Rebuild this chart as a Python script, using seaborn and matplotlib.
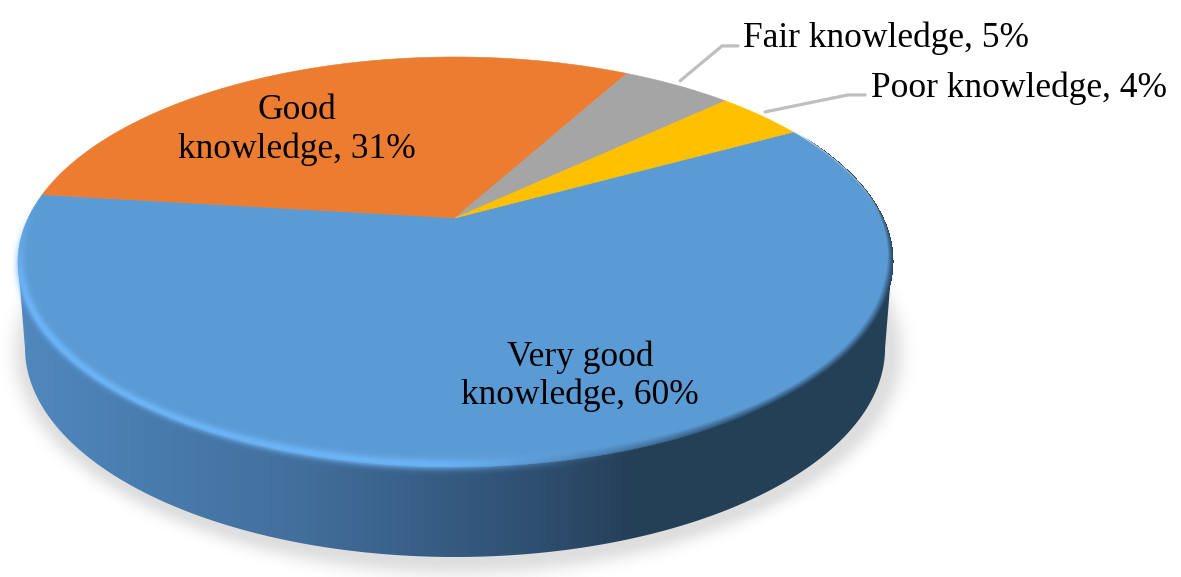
import numpy as np
import seaborn as sns
import matplotlib.pyplot as plt
from matplotlib.colors import LinearSegmentedColormap, to_rgb
from matplotlib.patches import Polygon

sns.set_theme(style='white')
plt.rcParams['font.family'] = ['Liberation Serif', 'DejaVu Serif']

# Chart values
categories = ['Very good knowledge', 'Good knowledge', 'Fair knowledge', 'Poor knowledge']
shares = [60, 31, 5, 4]
label_text = ['Very good\nknowledge, 60%', 'Good\nknowledge, 31%', 'Fair knowledge, 5%', 'Poor knowledge, 4%']
palette = sns.color_palette(['#5B9BD5', '#EB7C30', '#A5A5A5', '#FFC000'])

W, H = 1181, 577
fig = plt.figure(figsize=(W / 100 + 0.001, H / 100 + 0.001), dpi=100)
ax = fig.add_axes([0, 0, 1, 1])
ax.axis('off')

# perspective of the disc: the centre of the pie sits above the middle of the ellipse
CX, CY = 455, 218
A, B, K = 426.8, 195.5, 0.2147
px, py = np.meshgrid(np.arange(W) + 0.5, np.arange(H) + 0.5)
screen = [0, W, H, 0]


def top_face(deg):
    t = np.radians(deg)
    u = np.cos(t)
    v = -np.sin(t)
    d = 1 - K * v
    return CX + A * u / d, CY + B * v / d


def bottom_ellipse(deg):
    t = np.radians(deg)
    return 455 + 430 * np.cos(t), 348 - 209 * np.sin(t)


def ramp(t, lo, hi):
    s = np.clip((t - lo) / (hi - lo), 0, 1)
    return s * s * (3 - 2 * s)


def overlay(colour, alpha, z):
    img = np.zeros((H, W, 4))
    img[..., :3] = to_rgb(colour)
    img[..., 3] = np.clip(alpha, 0, 1)
    ax.imshow(img, extent=screen, aspect='auto', interpolation='nearest', zorder=z)


# soft shadow under the disc
sr = np.hypot((px - 458) / 430, (py - 352) / 209)
sd = (sr - 1) * np.hypot(px - 458, py - 352) / np.maximum(sr, 1e-6)
overlay('#000000', 0.13 * np.exp(-(np.maximum(sd, 0) / 16) ** 2), 1)

# side wall with a left to right gradient
wall_cmap = LinearSegmentedColormap.from_list('wall', [
    (0.00, '#5088BF'), (0.15, '#497CAE'), (0.33, '#426E9B'), (0.50, '#355A80'),
    (0.63, '#2C4A69'), (0.70, '#254058'), (1.00, '#244057')])
xa, ya = bottom_ellipse(np.linspace(0, -180, 181))
wall = Polygon(np.column_stack([np.r_[892, xa, 18], np.r_[262, ya, 262]]), closed=True,
               transform=ax.transData, fc='none', ec='none')
ax.add_patch(wall)
wall_img = ax.imshow(np.linspace(0, 1, 512)[None, :], extent=[18, 892, 560, 200], cmap=wall_cmap,
                     aspect='auto', zorder=2)
wall_img.set_clip_path(wall)

# slices, clockwise from the blue one's start
angle = 29.0
for value, colour in zip(shares, palette):
    sweep = value / sum(shares) * 360
    x, y = top_face(np.linspace(angle, angle - sweep, 200))
    ax.fill(np.r_[CX, x], np.r_[CY, y], color=colour, lw=0.4, zorder=3)
    angle -= sweep

# bevel on the rim: light on the left, dark and blurred on the right
X = (px - CX) / A
Y = (py - CY) / B
u = X / (1 + K * Y)
v = Y / (1 + K * Y)
r = np.hypot(u, v)
t = np.degrees(np.arctan2(-v, u)) % 360
t = np.where(t < 60, t + 360, t)
d = (1 - r) * np.hypot(px - CX, py - CY) / np.maximum(r, 1e-6)

light = ramp(t, 172, 205) * (1 - ramp(t, 262, 292)) * np.exp(-((d - 2) / 4.5) ** 2)
overlay('#6DB5F7', 0.95 * light, 4)
width = 7 - 5.5 * ramp(t, 335, 372)
dark = ramp(t, 268, 312) * (1 - ramp(t, 380, 390)) * np.clip(1 - d / width, 0, 1) * (d > -0.5)
overlay('#26425C', dark, 4)

# leader lines for the two small slices
ax.plot([680, 722, 738], [81, 46, 46], color='#BFBFBF', lw=2.3, zorder=5)
ax.plot([765, 848, 865], [112, 95, 95], color='#BFBFBF', lw=2.3, zorder=5)

# labels
ax.text(580, 376, label_text[0], ha='center', va='center', fontsize=25.5, color='black', linespacing=1.2, zorder=6)
ax.text(297, 130, label_text[1], ha='center', va='center', fontsize=25.5, color='black', linespacing=1.2, zorder=6)
ax.text(743, 38, label_text[2], ha='left', va='center', fontsize=25.5, color='black', zorder=6)
ax.text(871, 88, label_text[3], ha='left', va='center', fontsize=25.5, color='black', zorder=6)

ax.set_xlim(0, W)
ax.set_ylim(H, 0)
fig.savefig('out.png', dpi=100, facecolor='white')
